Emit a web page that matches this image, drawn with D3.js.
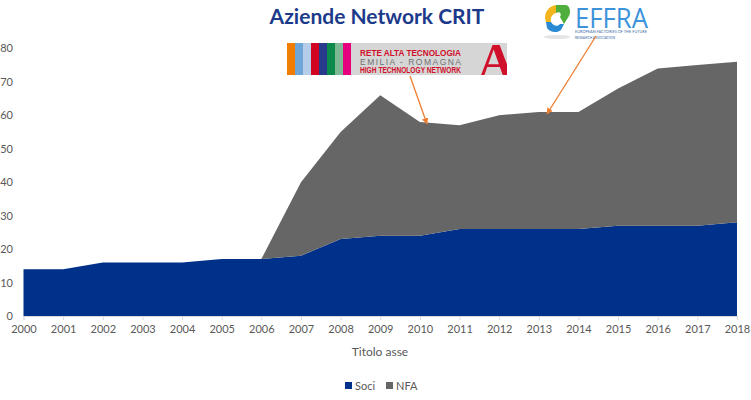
<!DOCTYPE html>
<html><head><meta charset="utf-8">
<script src="https://cdn.jsdelivr.net/npm/d3@7"></script>
<style>
html,body{margin:0;padding:0;background:#fff;}
svg{display:block;font-family:Lato,"Open Sans",sans-serif;}
</style></head>
<body>
<svg id="chart" width="751" height="400"></svg>
<script>
const years = [2000,2001,2002,2003,2004,2005,2006,2007,2008,2009,2010,2011,2012,2013,2014,2015,2016,2017,2018];
const soci  = [14,14,16,16,16,17,17,18,23,24,24,26,26,26,26,27,27,27,28];
const nfa   = [0,0,0,0,0,0,0,22,32,42,34,31,34,35,35,41,47,48,48];
const yTicks = [0,10,20,30,40,50,60,70,80];
const seriesNames = ["Soci","NFA"];
const seriesColors = ["#00318a","#666666"];
const titleText = "Aziende Network CRIT";
const xAxisTitle = "Titolo asse";

const svg = d3.select("#chart");
const x = d3.scaleLinear().domain([2000,2018]).range([23.5,737]);
const y = d3.scaleLinear().domain([0,80]).range([316,48.3]);

const table = years.map((yr,i)=>({year:yr, Soci:soci[i], NFA:nfa[i]}));
const stacked = d3.stack().keys(seriesNames)(table);

const area = d3.area().x(d=>x(d.data.year)).y0(d=>y(d[0])).y1(d=>y(d[1]));
svg.append("g").selectAll("path").data(stacked).join("path")
  .attr("d",area).attr("fill",(d,i)=>seriesColors[i]);

// x axis
const xAxis = d3.axisBottom(x).tickValues(years).tickFormat(d3.format("d")).tickSize(4).tickPadding(5);
const gx = svg.append("g").attr("transform","translate(0,316)").call(xAxis);
gx.select(".domain").attr("stroke","#d9d9d9");
gx.selectAll(".tick line").attr("stroke","#d9d9d9");
gx.selectAll("text").attr("fill","#595959").attr("font-size",11).attr("font-family","Lato, sans-serif");

// y axis labels
const yAxis = d3.axisLeft(y).tickValues(yTicks).tickSize(0).tickPadding(0);
const gy = svg.append("g").attr("transform","translate(13,0)").call(yAxis);
gy.select(".domain").remove();
gy.selectAll("text").attr("fill","#595959").attr("font-size",11).attr("font-family","Lato, sans-serif");

// axis title
svg.append("text").attr("x",380).attr("y",356).attr("text-anchor","middle")
  .attr("fill","#595959").attr("font-size",12).text(xAxisTitle);

// title
svg.append("text").attr("x",377).attr("y",24).attr("text-anchor","middle")
  .attr("fill","#1c3a8a").attr("font-size",21).attr("font-weight","bold").text(titleText);

// legend
const lg = svg.append("g");
const legX = [345,386];
seriesNames.forEach((n,i)=>{
  lg.append("rect").attr("x",legX[i]).attr("y",382).attr("width",7).attr("height",7).attr("fill",seriesColors[i]);
  lg.append("text").attr("x",legX[i]+10).attr("y",389.5).attr("fill","#595959").attr("font-size",11).text(n);
});

// Rete Alta Tecnologia logo
const logo = svg.append("g");
const defs = svg.append("defs");
defs.append("clipPath").attr("id","logoClip").append("rect").attr("x",287).attr("y",43).attr("width",220).attr("height",32);
const lg1 = logo.append("g").attr("clip-path","url(#logoClip)");
lg1.append("rect").attr("x",287).attr("y",43).attr("width",220).attr("height",32).attr("fill","#d6d6d6");
const stripes = ["#f07d00","#6ea6d8","#b6cde9","#d1031f","#283a8b","#0c8a4b","#7cb893","#e6007e"];
stripes.forEach((c,i)=>lg1.append("rect").attr("x",287+i*8).attr("y",43).attr("width",8).attr("height",32).attr("fill",c));
const logoLines = [["RETE ALTA TECNOLOGIA","#d0102a",56,"bold","spacingAndGlyphs"],
                   ["EMILIA - ROMAGNA","#707070",64.5,"normal","spacing"],
                   ["HIGH TECHNOLOGY NETWORK","#d0102a",73,"bold","spacingAndGlyphs"]];
logoLines.forEach(([t,c,yy,w,adj])=>{
  lg1.append("text").attr("x",360).attr("y",yy).attr("fill",c).attr("font-size",8.5).attr("font-weight",w)
    .attr("font-family","Liberation Sans, sans-serif").attr("textLength",101).attr("lengthAdjust",adj).text(t);
});
lg1.append("text").attr("x",478).attr("y",78).attr("fill","#d0102a").attr("font-size",50).attr("font-weight","bold")
  .attr("font-family","Liberation Serif, serif").text("A");

// EFFRA logo
const ef = svg.append("g");
ef.append("ellipse").attr("cx",557).attr("cy",37).attr("rx",13).attr("ry",2).attr("fill","#e4e4e4");
ef.append("path").attr("d","M546,22 C543,14 548,6 556,5 L561,5 L556,13 C552,14 550,18 551,22 Z").attr("fill","#f2b51c");
ef.append("path").attr("d","M556,5 L566,5 C570,6 571,12 569,16 L564,24 L560,17 C562,14 560,11 556,13 Z").attr("fill","#4fae3c");
ef.append("path").attr("d","M546,22 L551,22 C553,26 558,27 560,24 L564,24 L561,30 C558,33 550,33 547,28 Z").attr("fill","#2a8ad3");
ef.append("text").attr("x",575).attr("y",28).attr("fill","#3d93da").attr("font-size",28).attr("font-weight",400)
  .attr("font-family","Open Sans, sans-serif").attr("textLength",73).attr("lengthAdjust","spacingAndGlyphs").text("EFFRA");
ef.append("text").attr("x",575).attr("y",33).attr("fill","#3f6fa8").attr("font-size",4.2)
  .attr("textLength",72).attr("lengthAdjust","spacingAndGlyphs").text("EUROPEAN FACTORIES OF THE FUTURE");
ef.append("text").attr("x",575).attr("y",38.5).attr("fill","#3f6fa8").attr("font-size",4.2)
  .attr("textLength",40).attr("lengthAdjust","spacingAndGlyphs").text("RESEARCH ASSOCIATION");

// arrows
defs.append("marker").attr("id","arr").attr("viewBox","0 0 10 10").attr("refX",9).attr("refY",5)
  .attr("markerWidth",5).attr("markerHeight",5).attr("orient","auto")
  .append("path").attr("d","M0,0 L10,5 L0,10 Z").attr("fill","#ed7d31");
svg.append("line").attr("x1",410).attr("y1",76).attr("x2",427).attr("y2",124)
  .attr("stroke","#ed7d31").attr("stroke-width",1.3).attr("marker-end","url(#arr)");
svg.append("line").attr("x1",596).attr("y1",36).attr("x2",547).attr("y2",114)
  .attr("stroke","#ed7d31").attr("stroke-width",1.3).attr("marker-end","url(#arr)");
</script>
</body></html>
